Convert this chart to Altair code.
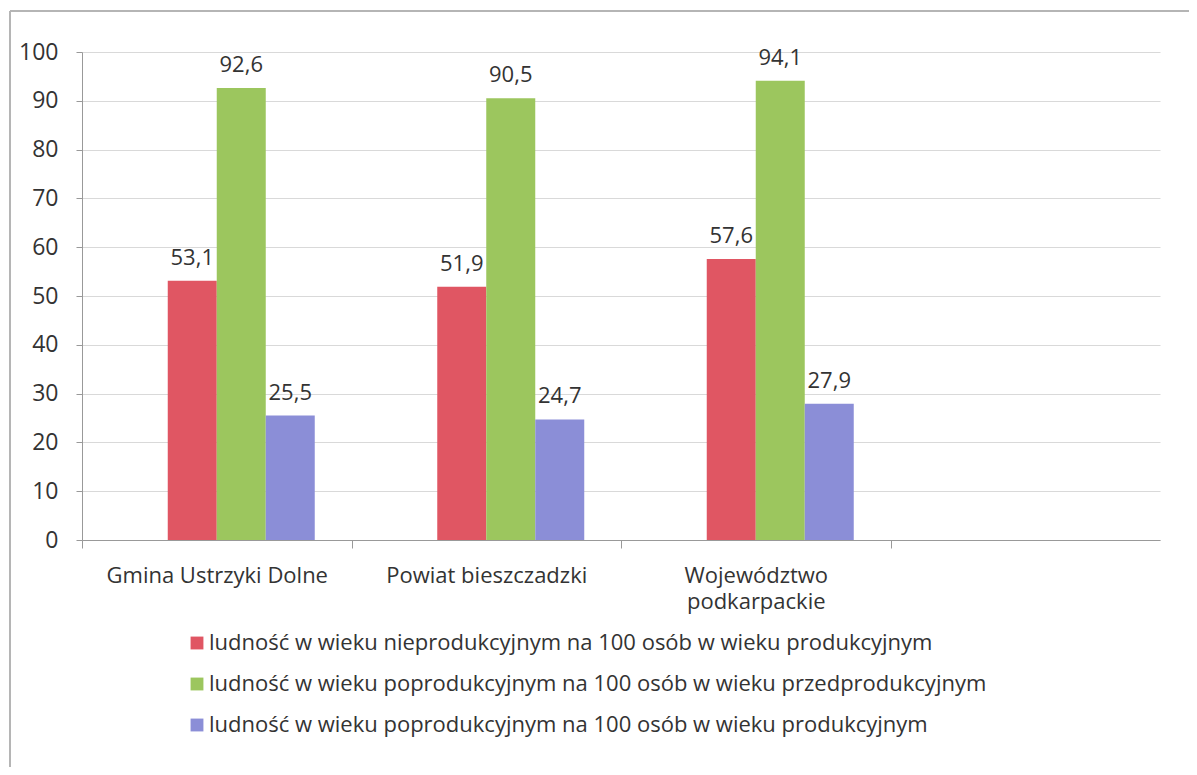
import altair as alt
import pandas as pd

categories = ["Gmina Ustrzyki Dolne", "Powiat bieszczadzki", "Województwo podkarpackie"]
x_domain = categories + [" "]
series = [
    "ludność w wieku nieprodukcyjnym na 100 osób w wieku produkcyjnym",
    "ludność w wieku poprodukcyjnym na 100 osób w wieku przedprodukcyjnym",
    "ludność w wieku poprodukcyjnym na 100 osób w wieku produkcyjnym",
]
values_nieprod = [53.1, 51.9, 57.6]
values_poprod_przed = [92.6, 90.5, 94.1]
values_poprod_prod = [25.5, 24.7, 27.9]
colors = ["#E05663", "#9CC65E", "#8B8ED7"]

rows = []
for s, vals in zip(series, [values_nieprod, values_poprod_przed, values_poprod_prod]):
    for c, v in zip(categories, vals):
        rows.append({"kategoria": c, "seria": s, "wartosc": v})
df = pd.DataFrame(rows)

FONT = "Open Sans"
FS = 22
W, H = 1078, 488
STEP = W / len(x_domain)

x_enc = alt.X(
    "kategoria:N",
    scale=alt.Scale(domain=x_domain, paddingInner=0, paddingOuter=0),
    axis=alt.Axis(
        title=None,
        labelAngle=0,
        labelFontSize=FS,
        labelFont=FONT,
        labelColor="#333333",
        labelPadding=17,
        labelLimit=400,
        labelLineHeight=26,
        labelExpr="length(datum.label) > 22 ? split(datum.label, ' ') : datum.label",
        tickOffset=-STEP / 2,
        labelOffset=STEP / 2,
        tickSize=8,
        tickColor="#999999",
        domainColor="#999999",
        grid=False,
    ),
)
xoff_enc = alt.XOffset(
    "seria:N",
    scale=alt.Scale(domain=["_"] + series, paddingInner=0, paddingOuter=0.75),
)

base = alt.Chart(df).encode(x=x_enc, xOffset=xoff_enc)

bars = base.mark_bar().encode(
    y=alt.Y(
        "wartosc:Q",
        scale=alt.Scale(domain=[0, 100]),
        axis=alt.Axis(
            title=None,
            values=list(range(0, 101, 10)),
            labelFontSize=23,
            labelFont=FONT,
            labelColor="#333333",
            labelPadding=18,
            tickSize=6,
            tickColor="#999999",
            domainColor="#999999",
            gridColor="#d9d9d9",
        ),
    ),
    color=alt.Color(
        "seria:N",
        scale=alt.Scale(domain=series, range=colors),
        legend=alt.Legend(
            title=None,
            orient="none",
            legendX=104,
            legendY=580,
            padding=0,
            direction="vertical",
            symbolType="square",
            symbolSize=165,
            symbolStrokeWidth=0,
            labelFontSize=FS,
            labelFont=FONT,
            labelColor="#333333",
            labelLimit=900,
            rowPadding=19,
            labelOffset=1,
        ),
    ),
)

labels = base.mark_text(
    baseline="bottom", dy=-11, fontSize=FS, font=FONT, color="#333333"
).encode(
    y=alt.Y("wartosc:Q"),
    text=alt.Text("etykieta:N"),
).transform_calculate(
    etykieta="replace(format(datum.wartosc, '.1f'), '.', ',')"
)

frame_data = pd.DataFrame({"f": [0]})
frame_left = alt.Chart(frame_data).mark_rule(color="#b5b5b5", strokeWidth=2).encode(
    x=alt.value(-72), y=alt.value(-41), y2=alt.value(H + 240)
)
frame_top = alt.Chart(frame_data).mark_rule(color="#b5b5b5", strokeWidth=2).encode(
    x=alt.value(-72), x2=alt.value(W + 40), y=alt.value(-41)
)

chart = alt.layer(bars, labels, frame_left, frame_top).properties(
    width=W,
    height=H,
    autosize=alt.AutoSizeParams(type="none"),
    padding={"left": 74, "top": 44, "right": 29, "bottom": 227},
).configure(background="white").configure_view(stroke=None)

chart.save("out.html", embed_options={"renderer": "svg", "actions": False})
